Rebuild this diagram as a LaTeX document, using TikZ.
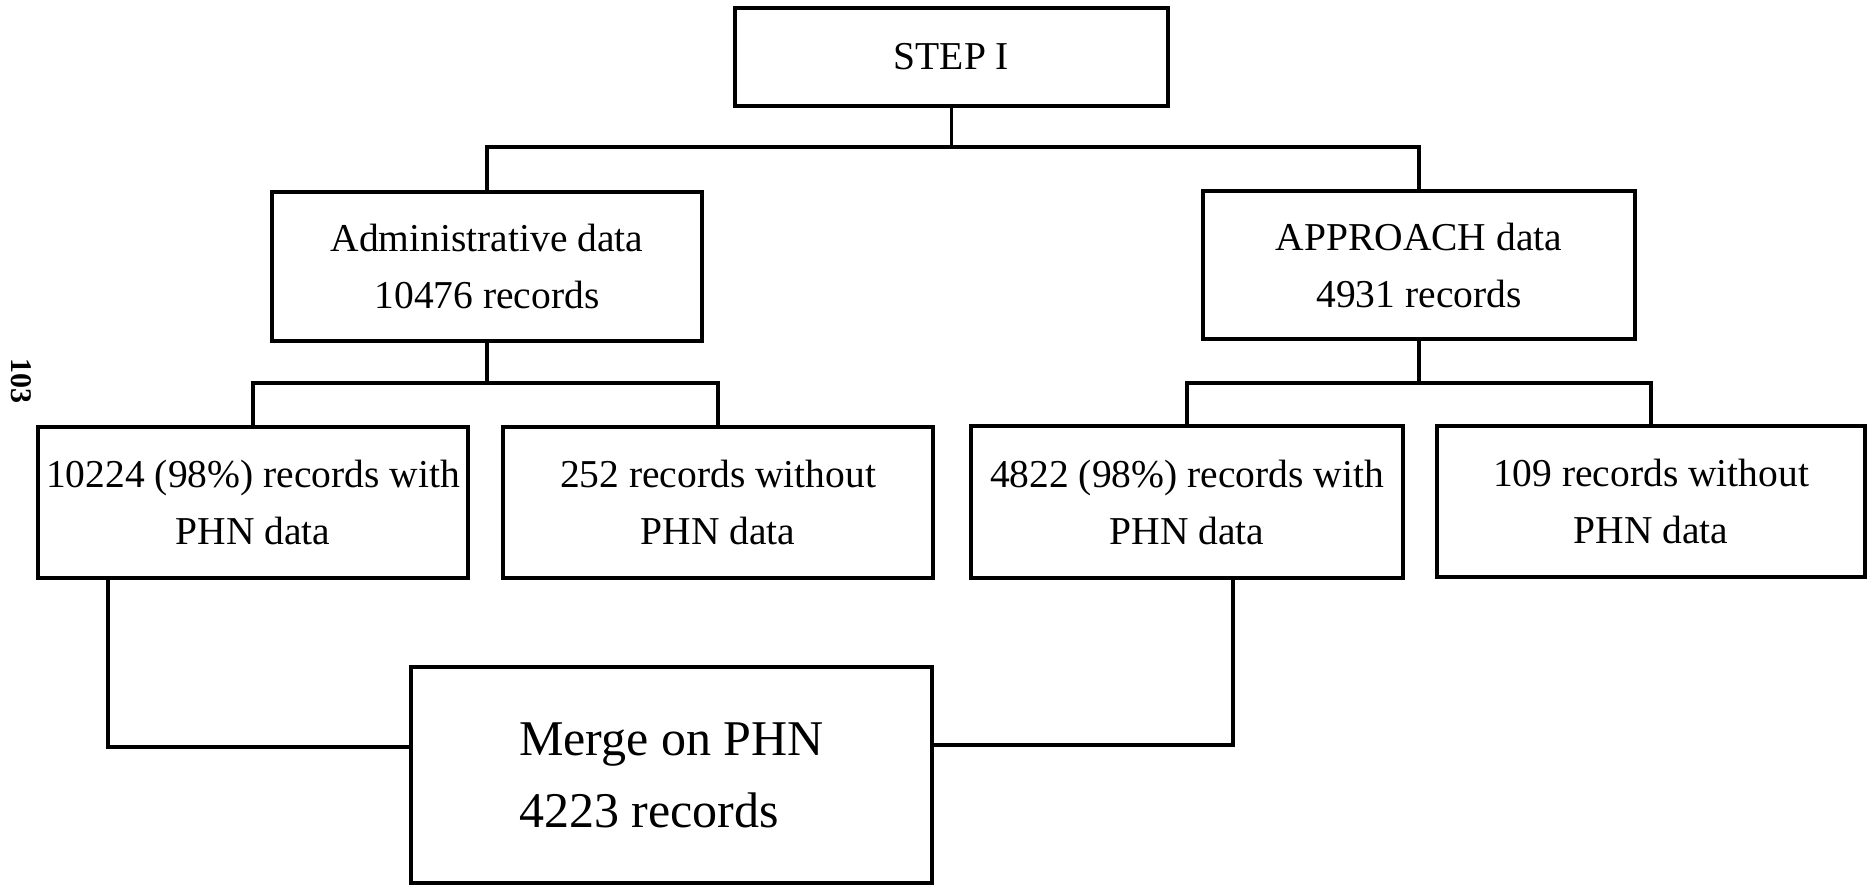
\documentclass[tikz,border=0pt]{standalone}
\usepackage{fontspec}
\setmainfont{Liberation Serif}
\begin{document}
\begin{tikzpicture}[x=1pt,y=1pt,
  box/.style={draw,line width=3.5pt,inner sep=0pt,align=center,font=\fontsize{39.5}{57}\selectfont},
  conn/.style={line width=3.5pt}]
\useasboundingbox (0,0) rectangle (1874,-885);
% boxes
\node[box,minimum width=433pt,minimum height=98pt] (step) at (951.5,-57) {STEP I};
\node[box,minimum width=430pt,minimum height=149pt] (admin) at (487,-266.5) {Administrative data\\10476 records};
\node[box,minimum width=432pt,minimum height=148pt] (appr) at (1419,-265) {APPROACH data\\4931 records};
\node[box,minimum width=430pt,minimum height=151pt] (b1) at (253,-502.5) {10224 (98\%) records with\\PHN data};
\node[box,minimum width=430pt,minimum height=151pt] (b2) at (718,-502.5) {252 records without\\PHN data};
\node[box,minimum width=432pt,minimum height=152pt] (b3) at (1187,-502) {4822 (98\%) records with\\PHN data};
\node[box,minimum width=428pt,minimum height=151pt] (b4) at (1651,-501.5) {109 records without\\PHN data};
\node[box,align=left,font=\fontsize{50}{72}\selectfont,minimum width=521pt,minimum height=216pt] (merge) at (671.5,-775) {Merge on PHN\\4223 records};
% page number
\node[font=\bfseries\fontsize{30}{30}\selectfont,rotate=-90,inner sep=0pt] (pg) at (21,-381) {103};
% connectors
\coordinate (j1) at (951.5,-147);
\draw[conn] (step.south) -- (j1);
\draw[conn] (admin.north) -- (admin.north |- j1) -- (appr.north |- j1) -- (appr.north);
\coordinate (j2) at (487,-383);
\draw[conn] (admin.south) -- (j2);
\draw[conn] (b1.north) -- (b1.north |- j2) -- (b2.north |- j2) -- (b2.north);
\coordinate (j3) at (1419,-383);
\draw[conn] (appr.south) -- (j3);
\draw[conn] (b3.north) -- (b3.north |- j3) -- (b4.north |- j3) -- (b4.north);
\coordinate (m1) at (108,-747);
\draw[conn] (b1.south -| m1) -- (m1) -- (merge.west |- m1);
\coordinate (m2) at (1233,-745);
\draw[conn] (b3.south -| m2) -- (m2) -- (merge.east |- m2);
\end{tikzpicture}
\end{document}
